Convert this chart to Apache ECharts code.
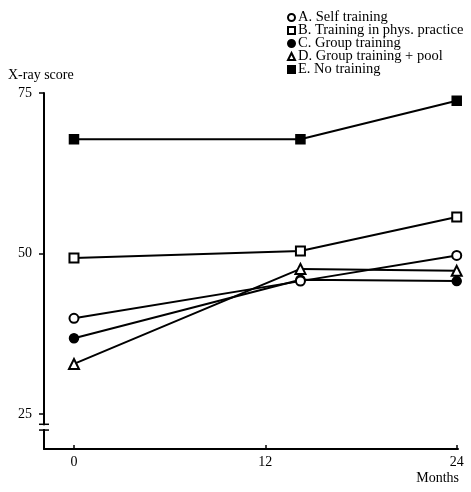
<!DOCTYPE html>
<html>
<head>
<meta charset="utf-8">
<script src="https://cdn.jsdelivr.net/npm/echarts@6/dist/echarts.min.js"></script>
<style>
  html, body { margin: 0; padding: 0; background: #fff; }
  #chart { width: 471px; height: 492px; }
</style>
</head>
<body>
<div id="chart"></div>
<script>
// months of measurement (middle visit was at ~14 months)
var months = [0, 14.2, 24];
var xTicks = [0, 12, 24];
var yTicks = [25, 50, 75];

var seriesNames = [
  "A. Self training",
  "B. Training in phys. practice",
  "C. Group training",
  "D. Group training + pool",
  "E. No training"
];
var selfTraining = [39.9, 45.7, 49.7];
var physPractice = [49.3, 50.4, 55.7];
var groupTraining = [36.8, 45.9, 45.7];
var groupPool = [32.8, 47.6, 47.3];
var noTraining = [67.8, 67.8, 73.8];

var symbols = ["emptyCircle", "emptyRect", "circle", "emptyTriangle", "rect"];
var allData = [selfTraining, physPractice, groupTraining, groupPool, noTraining];

var FONT = "Liberation Serif";

var chart = echarts.init(document.getElementById("chart"));

function pairs(vals) {
  return vals.map(function (v, i) { return [months[i], v]; });
}

var series = allData.map(function (vals, i) {
  return {
    name: seriesNames[i],
    type: "line",
    data: pairs(vals),
    symbol: symbols[i],
    symbolSize: i == 3 ? 10 : 9,
    showAllSymbol: true,
    silent: true,
    lineStyle: { color: "#000", width: 2 },
    itemStyle: { color: "#000", borderColor: "#000", borderWidth: 1.5 },
    z: 10 - i
  };
});

var option = {
  backgroundColor: "#fff",
  animation: false,
  textStyle: { fontFamily: FONT, color: "#000" },
  legend: {
    orient: "vertical",
    left: 282,
    top: 5,
    itemWidth: 7,
    itemHeight: 7,
    itemGap: -2,
    data: seriesNames.map(function (n, i) {
      return { name: n, icon: symbols[i] };
    }),
    textStyle: { fontFamily: FONT, fontSize: 14.5, color: "#000", padding: [0, 0, 0, -2] },
    selectedMode: false
  },
  grid: { left: 44, top: 93, right: 13, bottom: 43 },
  xAxis: {
    type: "value",
    min: -1.88,
    max: 24.08,
    name: "Months",
    nameLocation: "end",
    nameGap: 1,
    nameTextStyle: {
      fontFamily: FONT, fontSize: 14, color: "#000",
      align: "right", verticalAlign: "top", padding: [22, 0, 0, 0]
    },
    splitLine: { show: false },
    axisLine: { onZero: false, lineStyle: { color: "#000", width: 2 } },
    axisTick: { inside: true, length: 4, customValues: xTicks, lineStyle: { color: "#000", width: 1.5 } },
    axisLabel: { customValues: xTicks, fontFamily: FONT, fontSize: 14, color: "#000", margin: 6 }
  },
  yAxis: {
    type: "value",
    min: 19.55,
    max: 75,
    splitLine: { show: false },
    axisLine: { show: true, onZero: false, lineStyle: { color: "#000", width: 2 } },
    axisTick: { show: true, length: 5, customValues: yTicks, lineStyle: { color: "#000", width: 1.5 } },
    axisLabel: {
      customValues: yTicks, fontFamily: FONT, fontSize: 14, color: "#000", margin: 12,
      showMinLabel: true, showMaxLabel: true
    }
  },
  graphic: [
    {
      type: "text",
      left: 8,
      top: 68,
      style: { text: "X-ray score", font: "14px " + FONT, fill: "#000" }
    }
  ],
  series: series
};

chart.setOption(option);

// axis break marks on the y axis just below 25
var xAxisPx = chart.convertToPixel({ xAxisIndex: 0 }, -1.88);
var yA = chart.convertToPixel({ yAxisIndex: 0 }, 23.4);
var yB = chart.convertToPixel({ yAxisIndex: 0 }, 22.5);
chart.setOption({
  graphic: [
    option.graphic[0],
    {
      type: "rect",
      shape: { x: xAxisPx - 3, y: yA + 1, width: 6, height: yB - yA - 2 },
      style: { fill: "#fff" },
      z: 100
    },
    {
      type: "line",
      shape: { x1: xAxisPx - 5, y1: yA, x2: xAxisPx + 5, y2: yA },
      style: { stroke: "#000", lineWidth: 1.5 },
      z: 101
    },
    {
      type: "line",
      shape: { x1: xAxisPx - 5, y1: yB, x2: xAxisPx + 5, y2: yB },
      style: { stroke: "#000", lineWidth: 1.5 },
      z: 101
    }
  ]
});
</script>
</body>
</html>
